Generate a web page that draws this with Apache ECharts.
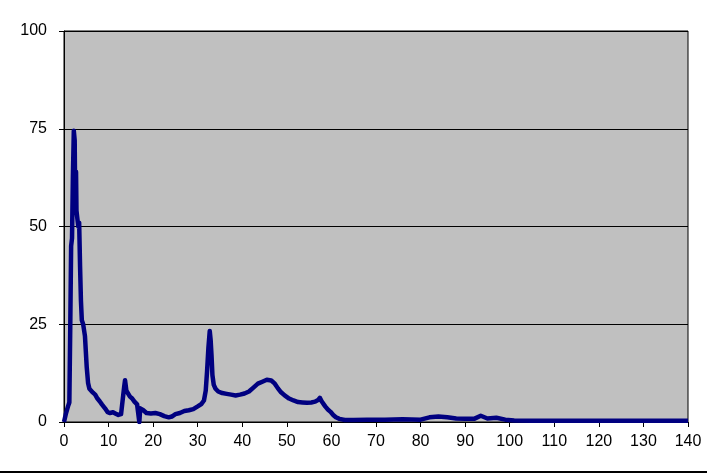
<!DOCTYPE html>
<html>
<head>
<meta charset="utf-8">
<script src="https://cdn.jsdelivr.net/npm/echarts@6/dist/echarts.min.js"></script>
<style>html,body{margin:0;padding:0;background:#fff}#c{width:707px;height:474px}</style>
</head>
<body>
<div id="c"></div>
<script>
const xValues = [0, 0.4, 0.9, 1.2, 1.4, 1.6, 1.8, 2.0, 2.2, 2.4, 2.5, 2.7, 2.8, 3.0, 3.2, 3.4, 3.6, 3.8, 4.0, 4.3, 4.7, 5.1, 5.4, 5.7, 6.0, 6.5, 7.0, 7.5, 8.0, 8.5, 9.2, 9.8, 10.3, 11.0, 11.5, 12.2, 12.8, 13.2, 13.5, 13.7, 14.0, 14.4, 14.8, 15.3, 15.8, 16.4, 16.8, 16.9, 17.0, 17.1, 17.8, 18.5, 19.5, 20.5, 21.5, 22.5, 23.5, 24.2, 25, 26, 27, 28, 29, 30, 30.8, 31.4, 31.8, 32.1, 32.4, 32.7, 32.9, 33.1, 33.3, 33.6, 34.0, 34.6, 35.5, 36.5, 37.5, 38.5, 39.5, 40.5, 41.5, 42.5, 43.5, 44.5, 45.5, 46.5, 47.3, 48.0, 48.7, 49.5, 50.5, 51.5, 52.5, 53.5, 54.5, 55.5, 56.3, 57.0, 57.4, 57.8, 58.1, 58.6, 59.2, 59.8, 60.4, 61.0, 61.8, 63, 65, 68, 72, 76, 80, 82, 84, 86, 88, 90, 92, 93.5, 95, 97, 99, 101, 105, 110, 120, 130, 140];
const yValues = [0, 2, 4, 5, 24, 45, 47, 63, 74.5, 72, 58, 64, 54, 52, 50, 51, 40, 31, 26, 25, 22, 14, 10, 8.5, 8, 7.5, 7, 6, 5.3, 4.5, 3.5, 2.5, 2.3, 2.5, 2.2, 1.8, 2, 2.5, 9, 10.7, 8, 7.5, 6.5, 6, 5.2, 4.5, 4, 0, 0, 3.5, 3, 2.3, 2.2, 2.3, 2, 1.5, 1.2, 1.4, 2, 2.3, 2.8, 3, 3.3, 4, 4.6, 5.5, 8, 13, 19, 23.3, 21, 17, 12, 9.5, 8.5, 7.8, 7.4, 7.2, 7, 6.8, 7, 7.3, 7.8, 8.8, 9.8, 10.3, 10.8, 10.6, 9.8, 8.6, 7.6, 6.8, 6, 5.5, 5.1, 5, 4.9, 5, 5.2, 5.6, 6.2, 5.3, 5.8, 4, 3.2, 2.6, 1.8, 1.2, 0.8, 0.5, 0.5, 0.6, 0.6, 0.7, 0.6, 1.2, 1.4, 1.2, 0.9, 0.8, 0.8, 1.6, 0.9, 1.1, 0.6, 0.4, 0.3, 0.3, 0.3, 0.3, 0.3];
const xTicks = { min: 0, max: 140, interval: 10 };
const yTicks = { min: 0, max: 100, interval: 25 };

const chart = echarts.init(document.getElementById('c'), null, { renderer: 'canvas' });
const font = { fontFamily: 'Liberation Sans, Arial, sans-serif', fontSize: 16, color: '#000' };
chart.setOption({
  animation: false,
  backgroundColor: '#fff',
  grid: { left: 64, top: 31, right: 19, bottom: 52, show: true, backgroundColor: '#C0C0C0', borderColor: '#000', borderWidth: 1 },
  xAxis: {
    type: 'value', min: xTicks.min, max: xTicks.max, interval: xTicks.interval,
    axisLine: { show: true, onZero: false, lineStyle: { color: '#000', width: 1 } },
    axisTick: { show: true, inside: false, length: 5, lineStyle: { color: '#000' } },
    axisLabel: Object.assign({ margin: 12 }, font),
    splitLine: { show: false }
  },
  yAxis: {
    type: 'value', min: yTicks.min, max: yTicks.max, interval: yTicks.interval,
    axisLine: { show: true, lineStyle: { color: '#000', width: 1 } },
    axisTick: { show: true, inside: false, length: 5, lineStyle: { color: '#000' } },
    axisLabel: Object.assign({ margin: 17 }, font),
    splitLine: { show: true, lineStyle: { color: '#000', width: 1 } }
  },
  graphic: [{ type: 'rect', shape: { x: 0, y: 471, width: 707, height: 2 }, style: { fill: '#000' } }],
  series: [{
    type: 'line',
    data: xValues.map((x, i) => [x, yValues[i]]),
    showSymbol: false,
    lineStyle: { color: '#000080', width: 4.5, join: 'round' },
    clip: true
  }]
});
</script>
</body>
</html>
